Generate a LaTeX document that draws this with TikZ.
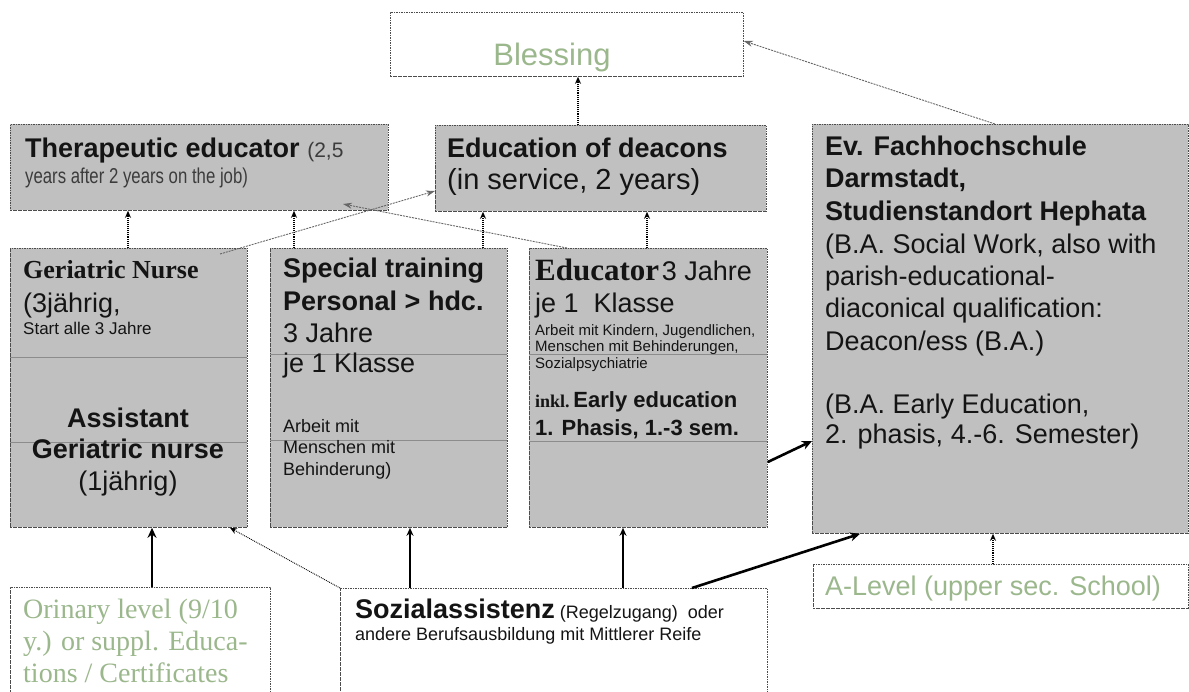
\documentclass[tikz,border=0pt]{standalone}
\usepackage{fontspec}
\setmainfont{Liberation Sans}
\newfontfamily\serifface{Liberation Serif}
\newfontfamily\narrowface[FakeStretch=0.78]{Liberation Sans}
\usetikzlibrary{arrows.meta}
\definecolor{boxgray}{RGB}{192,192,192}
\definecolor{sage}{RGB}{155,183,140}
\definecolor{ink}{RGB}{20,20,20}
\definecolor{softink}{RGB}{60,60,60}
\newcommand\fsz[2]{\fontsize{#1}{#2}\selectfont}
\tikzset{
  box/.style={draw=black!70, dash pattern=on 1.6pt off 0.9pt, line width=0.8pt, fill=boxgray, inner sep=0pt, anchor=north west},
  wbox/.style={box, fill=white},
  txt/.style={anchor=base west, inner sep=0pt, text=ink},
  divider/.style={draw=black!45, line width=0.7pt},
  dotarrow/.style={draw=black, densely dotted, line width=1.1pt, -{Stealth[length=7pt,width=6pt]}},
  grayline/.style={draw=black!60, dash pattern=on 2pt off 1pt, line width=0.9pt, -{Stealth[length=9pt,width=6pt]}},
  thickarrow/.style={draw=black, line width=2.6pt, -{Stealth[length=10pt,width=9pt]}},
  medarrow/.style={draw=black, line width=1.8pt, -{Stealth[length=8pt,width=7pt]}}
}
\begin{document}
\begin{tikzpicture}[x=1pt,y=-1pt]
\useasboundingbox (0,0) rectangle (1189,691);
% boxes
\node[wbox, minimum width=353pt, minimum height=64pt] (bless) at (390,12) {};
\node[box, minimum width=378pt, minimum height=86pt] (ther) at (10,124) {};
\node[box, minimum width=331pt, minimum height=86pt] (edu) at (435,125) {};
\node[box, minimum width=376pt, minimum height=409pt] (evfh) at (812,124) {};
\node[box, minimum width=237pt, minimum height=279pt] (ger) at (10,248) {};
\node[box, minimum width=237pt, minimum height=279pt] (spec) at (270,248) {};
\node[box, minimum width=238pt, minimum height=279pt] (educ) at (529,248) {};
\node[wbox, minimum width=260pt, minimum height=120pt] (orin) at (10,587) {};
\node[wbox, minimum width=427pt, minimum height=120pt] (soz) at (340,588) {};
\node[wbox, minimum width=375pt, minimum height=44pt] (alev) at (813,564) {};
% dividers
\draw[divider] (10,357) -- (247,357);
\draw[divider] (10,442) -- (247,442);
\draw[divider] (270,354) -- (507,354);
\draw[divider] (270,440) -- (507,440);
\draw[divider] (529,354) -- (767,354);
\draw[divider] (529,441) -- (767,441);
% texts
\node[txt, anchor=base, text=sage] (tbless) at (552,65) {\fsz{31}{36}Blessing};
\node[txt] (tther1) at (25,157) {\fsz{27}{32}\bfseries Therapeutic educator\ \mdseries\fsz{21}{25}\color{softink}(2,5};
\node[txt, text=softink] (tther2) at (25,183) {\narrowface\fsz{21.5}{25}years after 2 years on the job)};
\node[txt] (tedu1) at (447,157) {\fsz{27}{32}\bfseries Education of deacons};
\node[txt] (tedu2) at (447,189) {\fsz{29}{34}(in service, 2 years)};
\node[txt] (tev1) at (825,155) {\fsz{27}{32}\bfseries Ev. Fachhochschule};
\node[txt] (tev2) at (825,187) {\fsz{27}{32}\bfseries Darmstadt,};
\node[txt] (tev3) at (825,220) {\fsz{27}{32}\bfseries Studienstandort Hephata};
\node[txt] (tev4) at (825,253) {\fsz{27}{32}(B.A. Social Work, also with};
\node[txt] (tev5) at (825,285) {\fsz{27}{32}parish-educational-};
\node[txt] (tev6) at (825,317) {\fsz{27}{32}diaconical qualification:};
\node[txt] (tev7) at (825,350) {\fsz{27}{32}Deacon/ess (B.A.)};
\node[txt] (tev8) at (825,413) {\fsz{27}{32}(B.A. Early Education,};
\node[txt] (tev9) at (825,443) {\fsz{27}{32}2. phasis, 4.-6. Semester)};
\node[txt] (tger1) at (23,278) {\serifface\bfseries\fsz{26}{30}Geriatric Nurse};
\node[txt] (tger2) at (23,312) {\fsz{27}{32}(3jährig,};
\node[txt] (tger3) at (23,334) {\fsz{17}{20}Start alle 3 Jahre};
\node[txt, anchor=base] (tger4) at (128,427) {\fsz{27}{32}\bfseries Assistant};
\node[txt, anchor=base] (tger5) at (128,458) {\fsz{27}{32}\bfseries Geriatric nurse};
\node[txt, anchor=base] (tger6) at (128,490) {\fsz{27}{32}(1jährig)};
\node[txt] (tspec1) at (283,277) {\fsz{27}{32}\bfseries Special training};
\node[txt] (tspec2) at (283,310) {\fsz{27}{32}\bfseries Personal > hdc.};
\node[txt] (tspec3) at (283,342) {\fsz{27}{32}3 Jahre};
\node[txt] (tspec4) at (283,372) {\fsz{27}{32}je 1 Klasse};
\node[txt] (tspec5) at (283,432) {\fsz{18}{21}Arbeit mit};
\node[txt] (tspec6) at (283,453) {\fsz{18}{21}Menschen mit};
\node[txt] (tspec7) at (283,475) {\fsz{18}{21}Behinderung)};
\node[txt] (teduc1) at (535,280) {{\serifface\bfseries\fsz{31}{36}Educator} \fsz{27}{32}3 Jahre};
\node[txt] (teduc2) at (535,312) {\fsz{27}{32}je 1\ \ Klasse};
\node[txt] (teduc3) at (535,335) {\fsz{15}{17}Arbeit mit Kindern, Jugendlichen,};
\node[txt] (teduc4) at (535,351) {\fsz{15}{17}Menschen mit Behinderungen,};
\node[txt] (teduc5) at (535,368) {\fsz{15}{17}Sozialpsychiatrie};
\node[txt] (teduc6) at (535,407) {{\serifface\bfseries\fsz{18}{21}inkl.} \fsz{22}{26}\bfseries Early education};
\node[txt] (teduc7) at (535,435) {\fsz{22}{26}\bfseries 1. Phasis, 1.-3 sem.};
\node[txt, text=sage] (torin1) at (23,618) {\serifface\fsz{28}{32}Orinary level (9/10};
\node[txt, text=sage] (torin2) at (23,650) {\serifface\fsz{28}{32}y.) or suppl. Educa-};
\node[txt, text=sage] (torin3) at (23,682) {\serifface\fsz{28}{32}tions / Certificates};
\node[txt] (tsoz1) at (355,618) {\fsz{27}{32}\bfseries Sozialassistenz\mdseries\fsz{18}{21} (Regelzugang)\ \ oder};
\node[txt] (tsoz2) at (355,640) {\fsz{18}{21}andere Berufsausbildung mit Mittlerer Reife};
\node[txt, text=sage] (talev) at (825,595) {\fsz{27}{32}A-Level (upper sec. School)};
% connectors
\coordinate (c3s) at (220,254);
\coordinate (c4e) at (343,204);
\draw[dotarrow] (ger.north -| 128,0) -- (ther.south -| 128,0);
\draw[dotarrow] (spec.north -| 294,0) -- (ther.south -| 294,0);
\draw[grayline] (c3s) -- (edu.west |- 0,191);
\draw[grayline] (educ.north -| 567,0) -- (c4e);
\draw[dotarrow] (spec.north -| 483,0) -- (edu.south -| 483,0);
\draw[dotarrow] (educ.north -| 647,0) -- (edu.south -| 647,0);
\draw[dotarrow] (edu.north -| 578,0) -- (bless.south -| 578,0);
\draw[grayline] (evfh.north -| 995,0) -- (bless.east |- 0,41);
\draw[thickarrow] (educ.east |- 0,462) -- (evfh.west |- 0,441);
\draw[thickarrow] (soz.north -| 692,0) -- (evfh.south -| 860,0);
\draw[dotarrow] (alev.north -| 993,0) -- (evfh.south -| 993,0);
\draw[thickarrow] (orin.north -| 152,0) -- (ger.south -| 152,0);
\draw[dotarrow, line width=0.9pt] (soz.north west) -- (ger.south -| 230,0);
\draw[medarrow] (soz.north -| 410,0) -- (spec.south -| 410,0);
\draw[medarrow] (soz.north -| 623,0) -- (educ.south -| 623,0);
\end{tikzpicture}
\end{document}
